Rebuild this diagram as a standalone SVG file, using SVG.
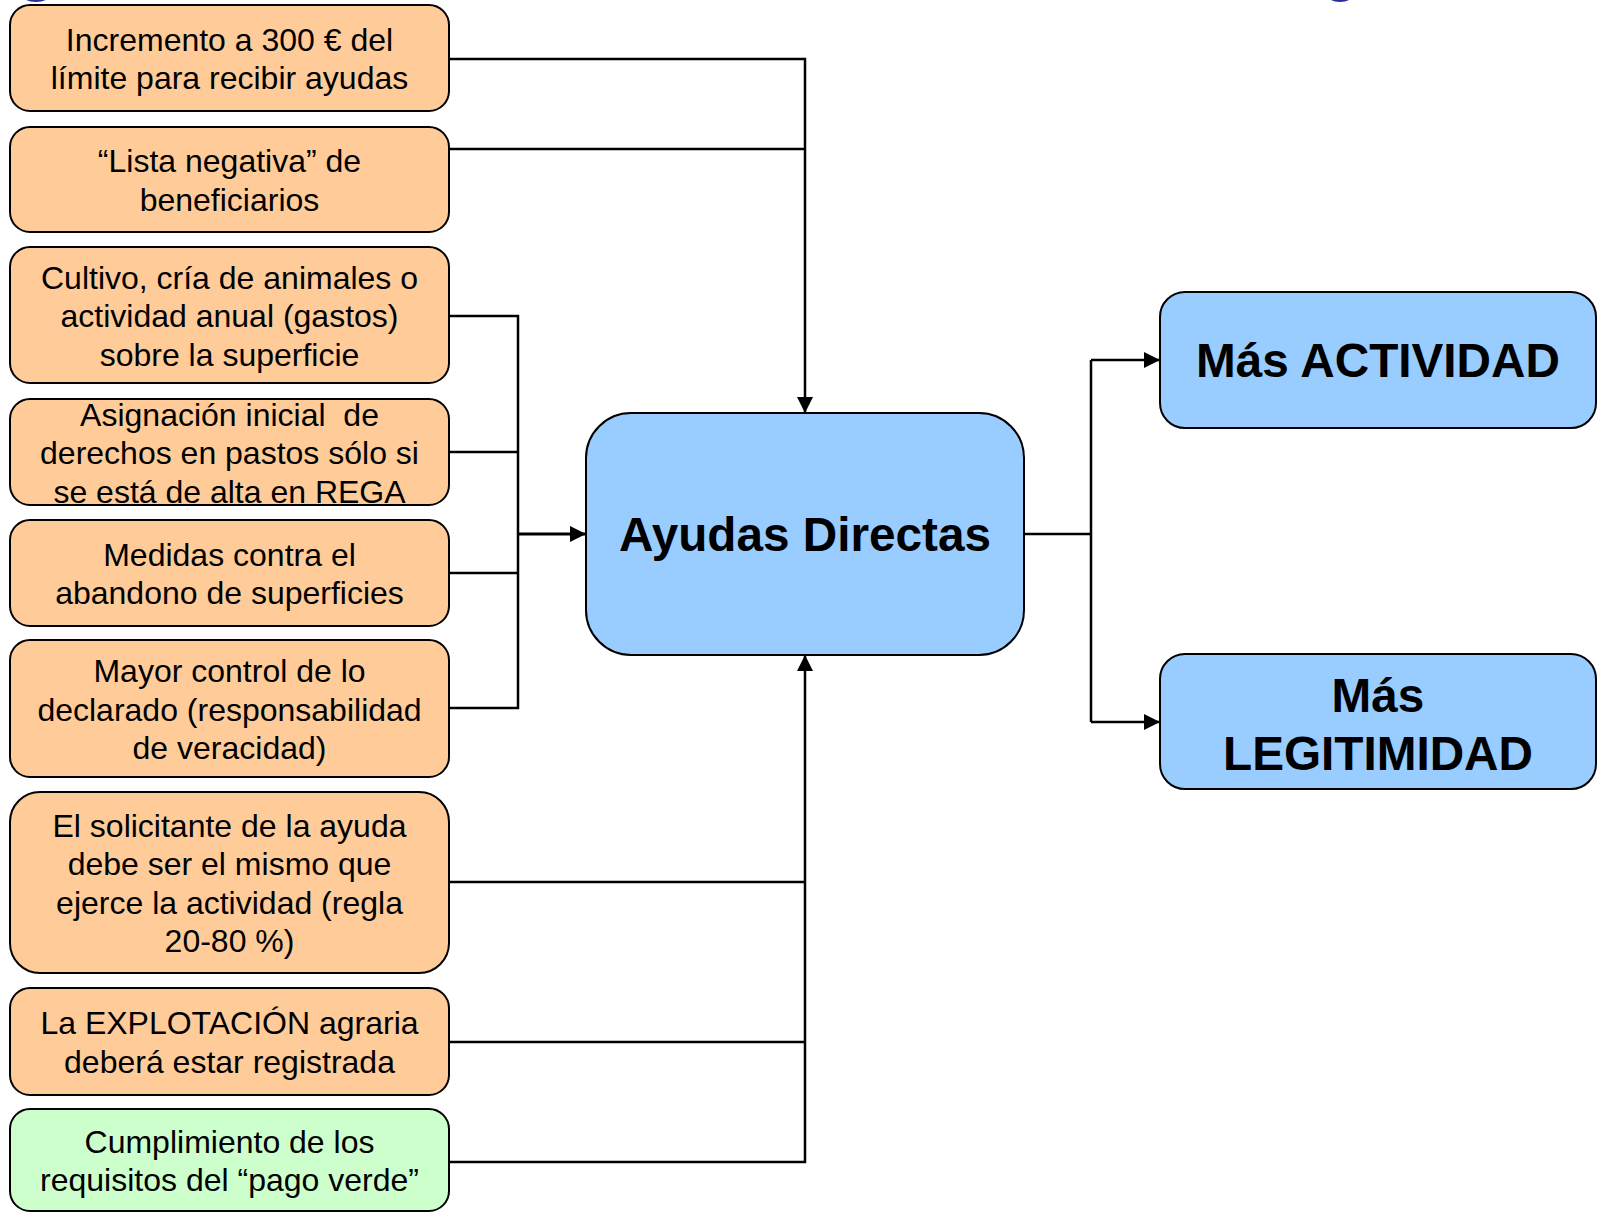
<svg xmlns="http://www.w3.org/2000/svg" width="1598" height="1212" viewBox="0 0 1598 1212">
<style>
.o{fill:#FFCC99;stroke:#000;stroke-width:2}
.g{fill:#CCFFCC;stroke:#000;stroke-width:2}
.b{fill:#99CCFF;stroke:#000;stroke-width:2}
.t{font-family:"Liberation Sans",Arial,sans-serif;font-size:32px;fill:#000;text-anchor:middle;white-space:pre}
.tb{font-family:"Liberation Sans",Arial,sans-serif;font-size:47.7px;font-weight:bold;fill:#000;text-anchor:middle}
.c{fill:none;stroke:#000;stroke-width:2.5}
</style>
<defs>
<marker id="ah" markerUnits="userSpaceOnUse" markerWidth="17" markerHeight="16" refX="16" refY="8" orient="auto">
<path d="M0,0 L16,8 L0,16 z" fill="#000"/>
</marker>
</defs>
<rect width="1598" height="1212" fill="#fff"/>
<ellipse cx="36" cy="-5" rx="14" ry="7" fill="#2B2B9B"/>
<ellipse cx="1340" cy="-5" rx="13" ry="7" fill="#2B2B9B"/>
<g id="connectors">
<path class="c" d="M449,59 H805 V413" marker-end="url(#ah)"/>
<path class="c" d="M449,149 H805"/>
<path class="c" d="M449,316 H518 V708 H449"/>
<path class="c" d="M449,452 H518"/>
<path class="c" d="M449,573 H518"/>
<path class="c" style="stroke-width:3" d="M518,534 H586" marker-end="url(#ah)"/>
<path class="c" d="M449,882 H805"/>
<path class="c" d="M449,1042 H805"/>
<path class="c" d="M449,1162 H805 V655" marker-end="url(#ah)"/>
<path class="c" d="M1024,534 H1091"/>
<path class="c" d="M1091,360 V722"/>
<path class="c" d="M1091,360 H1160" marker-end="url(#ah)"/>
<path class="c" d="M1091,722 H1160" marker-end="url(#ah)"/>
</g>
<g id="n1"><rect class="o" x="10" y="5" width="439" height="106" rx="20"/>
<text class="t" x="229.5" y="50.5">Incremento a 300 € del</text><text class="t" x="229.5" y="89">límite para recibir ayudas</text></g>
<g id="n2"><rect class="o" x="10" y="127" width="439" height="105" rx="20"/>
<text class="t" x="229.5" y="172">“Lista negativa” de</text><text class="t" x="229.5" y="210.5">beneficiarios</text></g>
<g id="n3"><rect class="o" x="10" y="247" width="439" height="136" rx="20"/>
<text class="t" x="229.5" y="288.5">Cultivo, cría de animales o</text><text class="t" x="229.5" y="327">actividad anual (gastos)</text><text class="t" x="229.5" y="365.5">sobre la superficie</text></g>
<g id="n4"><rect class="o" x="10" y="399" width="439" height="106" rx="20"/>
<text class="t" x="229.5" y="425.5">Asignación inicial  de</text><text class="t" x="229.5" y="464">derechos en pastos sólo si</text><text class="t" x="229.5" y="502.5">se está de alta en REGA</text></g>
<g id="n5"><rect class="o" x="10" y="520" width="439" height="106" rx="20"/>
<text class="t" x="229.5" y="565.5">Medidas contra el</text><text class="t" x="229.5" y="604">abandono de superficies</text></g>
<g id="n6"><rect class="o" x="10" y="640" width="439" height="137" rx="20"/>
<text class="t" x="229.5" y="682">Mayor control de lo</text><text class="t" x="229.5" y="720.5">declarado (responsabilidad</text><text class="t" x="229.5" y="759">de veracidad)</text></g>
<g id="n7"><rect class="o" x="10" y="792" width="439" height="181" rx="30"/>
<text class="t" x="229.5" y="836.5">El solicitante de la ayuda</text><text class="t" x="229.5" y="875">debe ser el mismo que</text><text class="t" x="229.5" y="913.5">ejerce la actividad (regla</text><text class="t" x="229.5" y="952">20-80 %)</text></g>
<g id="n8"><rect class="o" x="10" y="988" width="439" height="107" rx="20"/>
<text class="t" x="229.5" y="1034">La EXPLOTACIÓN agraria</text><text class="t" x="229.5" y="1072.5">deberá estar registrada</text></g>
<g id="n9"><rect class="g" x="10" y="1109" width="439" height="102" rx="20"/>
<text class="t" x="229.5" y="1152.5">Cumplimiento de los</text><text class="t" x="229.5" y="1191">requisitos del “pago verde”</text></g>
<g id="center"><rect class="b" x="586" y="413" width="438" height="242" rx="45"/>
<text class="tb" x="805" y="551">Ayudas Directas</text></g>
<g id="r1"><rect class="b" x="1160" y="292" width="436" height="136" rx="25"/>
<text class="tb" x="1378" y="377">Más ACTIVIDAD</text></g>
<g id="r2"><rect class="b" x="1160" y="654" width="436" height="135" rx="25"/>
<text class="tb" x="1378" y="712">Más</text><text class="tb" x="1378" y="770">LEGITIMIDAD</text></g>
</svg>
